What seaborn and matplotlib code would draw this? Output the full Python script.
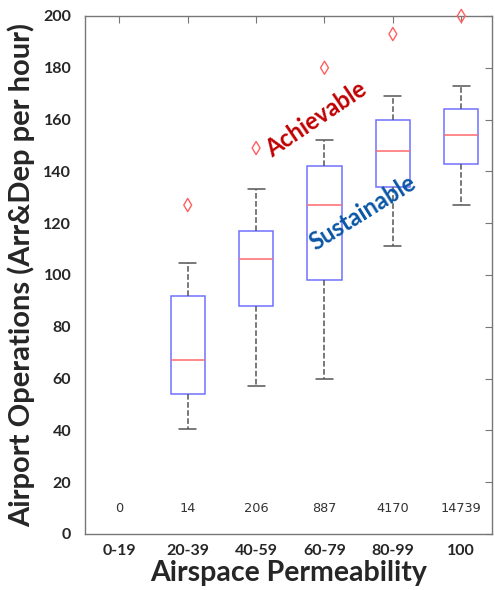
import numpy as np
import pandas as pd
import matplotlib
matplotlib.use("Agg")
import matplotlib.pyplot as plt
import seaborn as sns

# categories and box summary values
categories = ["0-19", "20-39", "40-59", "60-79", "80-99", "100"]
box_cats = ["20-39", "40-59", "60-79", "80-99", "100"]
whisker_low = [40.5, 57, 60, 111, 127]
q1 = [54, 88, 98, 134, 143]
median = [67, 106, 127, 148, 154]
q3 = [92, 117, 142, 160, 164]
whisker_high = [104.5, 133, 152, 169, 173]
outliers = [127, 149, 180, 193, 200]
counts = ["0", "14", "206", "887", "4170", "14739"]

# rows for seaborn: with whis=(0, 100) the whiskers sit at min/max and
# the quartiles of these 9 values are exactly q1 / median / q3
rows = []
for i, c in enumerate(box_cats):
    vals = [whisker_low[i], q1[i], q1[i], median[i], median[i],
            median[i], q3[i], q3[i], whisker_high[i]]
    for v in vals:
        rows.append({"perm": c, "ops": v})
df = pd.DataFrame(rows)

sns.set_style("white")
plt.rcParams["font.family"] = ["Lato", "DejaVu Sans"]

fig = plt.figure(figsize=(4.95, 5.9), dpi=100)
ax = fig.add_axes([0.172, 0.095, 0.822, 0.878])

sns.boxplot(
    data=df, x="perm", y="ops", order=categories, ax=ax,
    width=0.5, whis=(0, 100), showfliers=False, linewidth=1.1,
    boxprops=dict(facecolor="white", edgecolor="#7070ff"),
    medianprops=dict(color="#ff6a6a"),
    whiskerprops=dict(color="#555555", linestyle="--"),
    capprops=dict(color="#555555"),
)

# outliers as open diamonds
out_x = [categories.index(c) for c in box_cats]
sns.scatterplot(x=out_x, y=outliers, ax=ax, marker="d", s=45,
                facecolor="none", edgecolor="#ff6060", linewidth=1,
                zorder=5, clip_on=False)

# sample counts
for i, n in enumerate(counts):
    ax.text(i, 10, n, ha="center", va="center", fontsize=9.3,
            color="#333333", family="DejaVu Sans")

ax.text(2.88, 160, "Achievable", rotation=34, color="#c00000",
        fontsize=17, fontweight="bold", ha="center", va="center")
ax.text(3.56, 124, "Sustainable", rotation=32, color="#0a56a6",
        fontsize=17, fontweight="bold", ha="center", va="center")

ax.set_xlim(-0.5, 5.45)
ax.set_ylim(0, 200)
ax.set_yticks(np.arange(0, 201, 20))
ax.tick_params(direction="in", top=True, right=True, length=5,
               color="#777777", labelsize=11.5)
ax.tick_params(axis="y", pad=10)
ax.tick_params(axis="x", pad=7)
for lab in ax.get_xticklabels() + ax.get_yticklabels():
    lab.set_fontweight("bold")
for s in ax.spines.values():
    s.set_color("#777777")
    s.set_linewidth(1)

ax.set_xlabel("Airspace Permeability", fontsize=20.5, fontweight="bold",
              labelpad=2)
ax.set_ylabel("Airport Operations (Arr&Dep per hour)", fontsize=21,
              fontweight="bold", labelpad=6)

fig.savefig("out.png", dpi=100)
